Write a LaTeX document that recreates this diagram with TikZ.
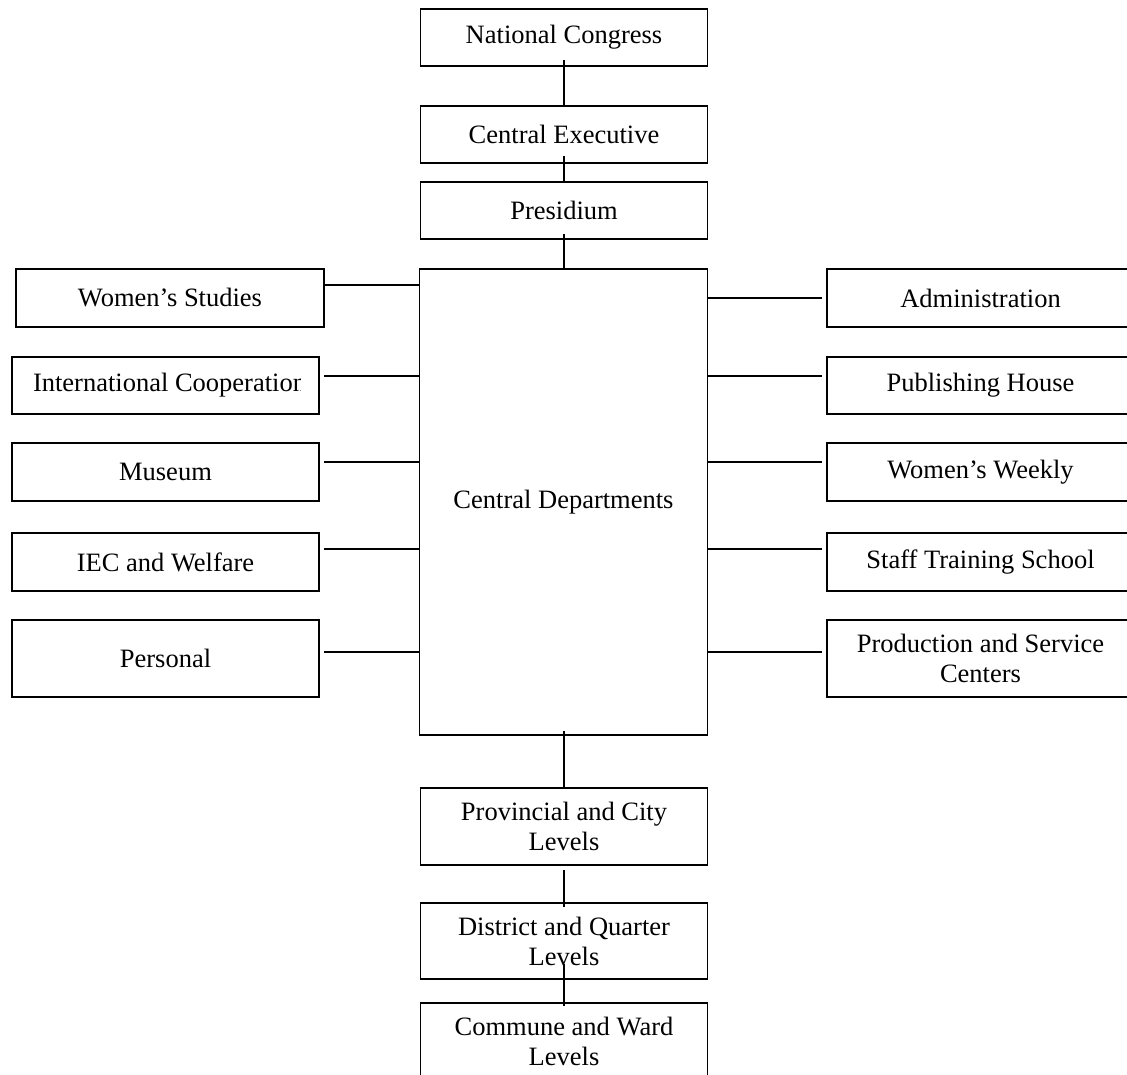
\documentclass[tikz,border=0pt]{standalone}
\usepackage{fontspec}
\setmainfont{Liberation Serif}

\begin{document}
\begin{tikzpicture}[x=1pt,y=-1pt,line width=1.8pt,
		unit/.style={draw,rectangle,inner sep=0pt,align=center,minimum width=287pt,minimum height=57pt,font=\fontsize{26.5}{30}\selectfont},
		side/.style={unit,minimum width=307pt}]
		\clip (0,0) rectangle (1127,1074);
		% centre column
		\node[unit] (nc) at (564,37.5) {National Congress};
		\node[unit] (ce) at (564,134.5) {Central Executive};
		\node[unit] (pres) at (564,210.5) {Presidium};
		\node[unit,minimum width=288pt,minimum height=466pt] (cd) at (563.5,502) {Central Departments};
		\node[unit,minimum height=77pt] (prov) at (564,826.5) {Provincial and City\\Levels};
		\node[unit,minimum height=76pt] (dist) at (564,941) {District and Quarter\\Levels};
		\node[unit,minimum height=77pt] (comm) at (564,1041.5) {Commune and Ward\\Levels};
		% left side
		\node[side,minimum width=308pt,minimum height=58pt] (ws) at (170,298) {Women's Studies};
		\node[side] (intl) at (165.5,385.5) {};
		\begin{scope}
			\clip ([xshift=-19pt]intl.north east) rectangle (intl.south west);
			\node[unit,draw=none,minimum width=0pt,anchor=west] at ([xshift=21pt]intl.west) {International Cooperation};
		\end{scope}
		\node[side,minimum height=58pt] (mus) at (165.5,472) {Museum};
		\node[side,minimum height=58pt] (iec) at (165.5,562) {IEC and Welfare};
		\node[side,minimum height=77pt] (pers) at (165.5,658.5) {Personal};
		% right side
		\node[side,minimum height=58pt] (adm) at (980.5,298) {Administration};
		\node[side] (pub) at (980.5,385.5) {Publishing House};
		\node[side,minimum height=58pt] (ww) at (980.5,472) {Women's Weekly};
		\node[side,minimum height=58pt] (sts) at (980.5,562) {Staff Training School};
		\node[side,minimum height=77pt] (psc) at (980.5,658.5) {Production and Service\\Centers};
		% connectors
		\draw ([yshift=7pt]nc.south) -- (ce.north);
		\draw ([yshift=8pt]ce.south) -- (pres.north);
		\draw ([yshift=6pt]pres.south) -- (pres.south |- cd.north);
		\draw ([yshift=5pt]cd.south -| prov.north) -- (prov.north);
		\draw ([yshift=-4pt]prov.south) -- ([yshift=-5pt]dist.north);
		\draw ([yshift=16pt]dist.south) -- ([yshift=-4pt]comm.north);
		\draw ([yshift=13pt]ws.east) -- ([yshift=13pt]ws.east -| cd.west);
		\draw ([xshift=4pt,yshift=9.5pt]intl.east) -- ([yshift=9.5pt]intl.east -| cd.west);
		\draw ([xshift=4pt,yshift=10pt]mus.east) -- ([yshift=10pt]mus.east -| cd.west);
		\draw ([xshift=4pt,yshift=13pt]iec.east) -- ([yshift=13pt]iec.east -| cd.west);
		\draw ([xshift=4pt,yshift=6.5pt]pers.east) -- ([yshift=6.5pt]pers.east -| cd.west);
		\draw (cd.east |- adm.west) -- ([xshift=-4pt]adm.west);
		\draw ([yshift=9.5pt]pub.west -| cd.east) -- ([xshift=-4pt,yshift=9.5pt]pub.west);
		\draw ([yshift=10pt]ww.west -| cd.east) -- ([xshift=-4pt,yshift=10pt]ww.west);
		\draw ([yshift=13pt]sts.west -| cd.east) -- ([xshift=-4pt,yshift=13pt]sts.west);
		\draw ([yshift=6.5pt]psc.west -| cd.east) -- ([xshift=-4pt,yshift=6.5pt]psc.west);
	\end{tikzpicture}
\end{document}
